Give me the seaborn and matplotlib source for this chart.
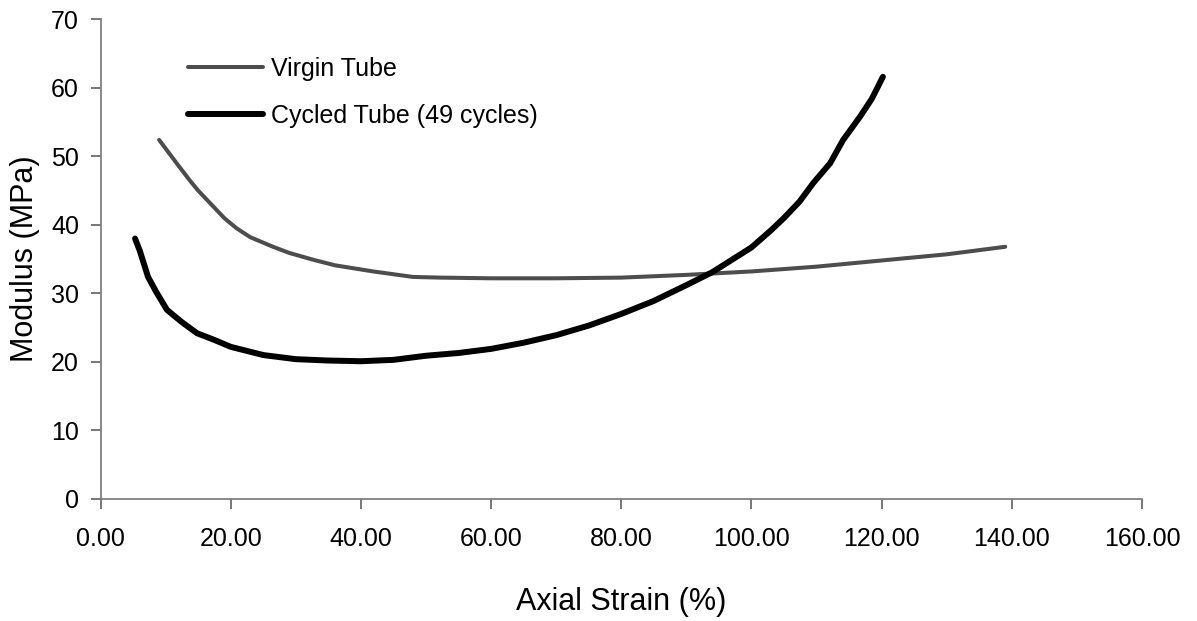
import matplotlib
matplotlib.use("Agg")
import matplotlib.pyplot as plt
import seaborn as sns
import pandas as pd

virgin_strain = [9.0, 10.5, 12.0, 13.7, 15.0, 17.3, 19.0, 20.9, 23.0, 26.5, 29.0, 32.7, 36.0,
                 41.9, 48.0, 52.2, 60.0, 70.0, 80.0, 90.0, 100.0, 110.0, 120.0, 130.0, 139.0]
virgin_modulus = [52.4, 50.5, 48.6, 46.5, 45.0, 42.7, 41.0, 39.5, 38.2, 36.8, 35.9, 34.9, 34.1,
                  33.2, 32.4, 32.3, 32.2, 32.2, 32.3, 32.7, 33.2, 33.9, 34.8, 35.7, 36.8]

cycled_strain = [5.3, 6.0, 6.7, 7.3, 8.5, 10.2, 12.5, 14.8, 17.5, 20.0, 25.0, 30.0, 35.0, 40.0, 45.0,
                 50.0, 55.0, 60.0, 65.0, 70.0, 75.0, 80.0, 85.0, 90.0, 94.0, 97.0, 100.0,
                 103.0, 105.0, 107.4, 109.5, 112.1, 114.1, 116.7, 118.5, 120.2]
cycled_modulus = [38.0, 36.3, 34.2, 32.4, 30.3, 27.6, 25.8, 24.2, 23.2, 22.2, 21.0, 20.4, 20.2, 20.1, 20.3,
                  20.9, 21.3, 21.9, 22.8, 23.9, 25.3, 27.0, 28.9, 31.2, 33.1, 34.9, 36.7,
                  39.2, 41.0, 43.4, 46.1, 49.0, 52.4, 55.8, 58.4, 61.6]

series_names = ["Virgin Tube", "Cycled Tube (49 cycles)"]

df = pd.concat([
    pd.DataFrame({"strain": virgin_strain, "modulus": virgin_modulus, "series": series_names[0]}),
    pd.DataFrame({"strain": cycled_strain, "modulus": cycled_modulus, "series": series_names[1]}),
])

sns.set_style("white")
plt.rcParams["font.family"] = ["Liberation Sans", "DejaVu Sans"]
plt.rcParams["text.color"] = "black"
plt.rcParams["axes.labelcolor"] = "black"

fig = plt.figure(figsize=(11.97, 6.21), dpi=100)
ax = fig.add_axes([0.084, 0.1965, 0.87, 0.7725])

sns.lineplot(data=df[df.series == series_names[0]], x="strain", y="modulus", sort=False,
             color="#4d4d4d", linewidth=2.9, ax=ax, label=series_names[0])
sns.lineplot(data=df[df.series == series_names[1]], x="strain", y="modulus", sort=False,
             color="black", linewidth=4.3, ax=ax, label=series_names[1],
             solid_capstyle="round", solid_joinstyle="round")

ax.set_xlim(0, 160)
ax.set_ylim(0, 70)
ax.set_xticks(range(0, 161, 20))
ax.set_xticklabels([f"{v:.2f}" for v in range(0, 161, 20)])
ax.set_yticks(range(0, 71, 10))

for s in ["top", "right"]:
    ax.spines[s].set_visible(False)
for s in ["left", "bottom"]:
    ax.spines[s].set_color("#808080")
    ax.spines[s].set_linewidth(1.3)

ax.tick_params(axis="both", which="major", direction="out", length=7, width=1.2,
               color="#606060", labelsize=18, labelcolor="black", bottom=True, left=True)
ax.tick_params(axis="x", pad=13)
ax.tick_params(axis="y", pad=8.5)

ax.set_xlabel("Axial Strain (%)", fontsize=22, labelpad=26)
ax.set_ylabel("Modulus (MPa)", fontsize=22, labelpad=8)

leg = ax.legend(loc="upper left", bbox_to_anchor=(0.0745, 0.943), frameon=False, fontsize=18,
                handlelength=3.0, handletextpad=0.3, labelspacing=0.94, borderaxespad=0)

fig.savefig("out.png", dpi=100)
